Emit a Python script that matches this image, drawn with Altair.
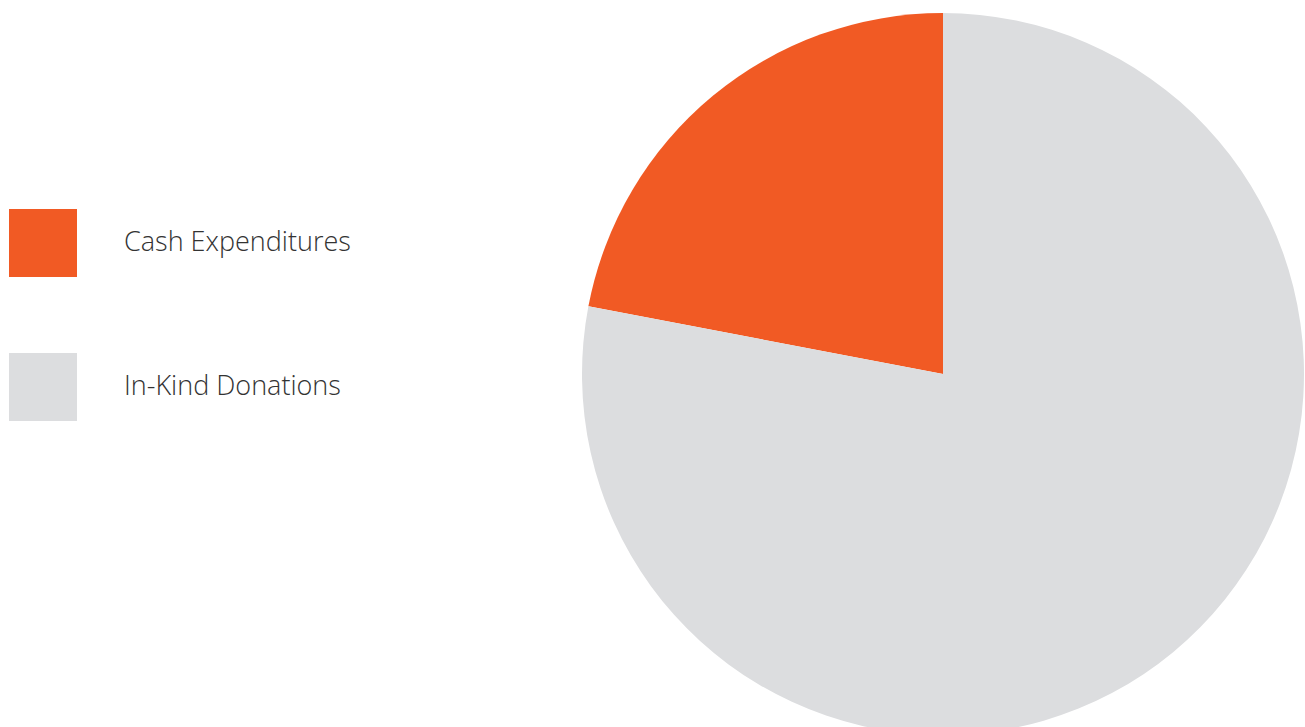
import altair as alt
import pandas as pd

categories = ["Cash Expenditures", "In-Kind Donations"]
values = [22, 78]
order = [2, 1]
colors = ["#F15A24", "#DCDDDF"]

df = pd.DataFrame({"category": categories, "value": values, "order": order})

chart = alt.Chart(df).mark_arc(radius=361, stroke=None).encode(
    theta=alt.Theta("value:Q", stack=True),
    order=alt.Order("order:Q"),
    x=alt.value(943),
    y=alt.value(374),
    color=alt.Color(
        "category:N",
        scale=alt.Scale(domain=categories, range=colors),
        legend=alt.Legend(
            title=None,
            orient="none",
            legendX=9,
            legendY=209,
            symbolType="square",
            symbolSize=4624,
            symbolStrokeWidth=0,
            symbolOpacity=1,
            labelFont="Open Sans",
            labelFontWeight=300,
            labelFontSize=27,
            labelColor="#333333",
            labelOffset=47,
            labelLimit=400,
            rowPadding=76,
            padding=0,
        ),
    ),
).properties(
    width=1305,
    height=727,
    autosize=alt.AutoSizeParams(type="none"),
    padding=0,
).configure_view(stroke=None)

chart.save("out.html", embed_options={"renderer": "svg", "actions": False})
